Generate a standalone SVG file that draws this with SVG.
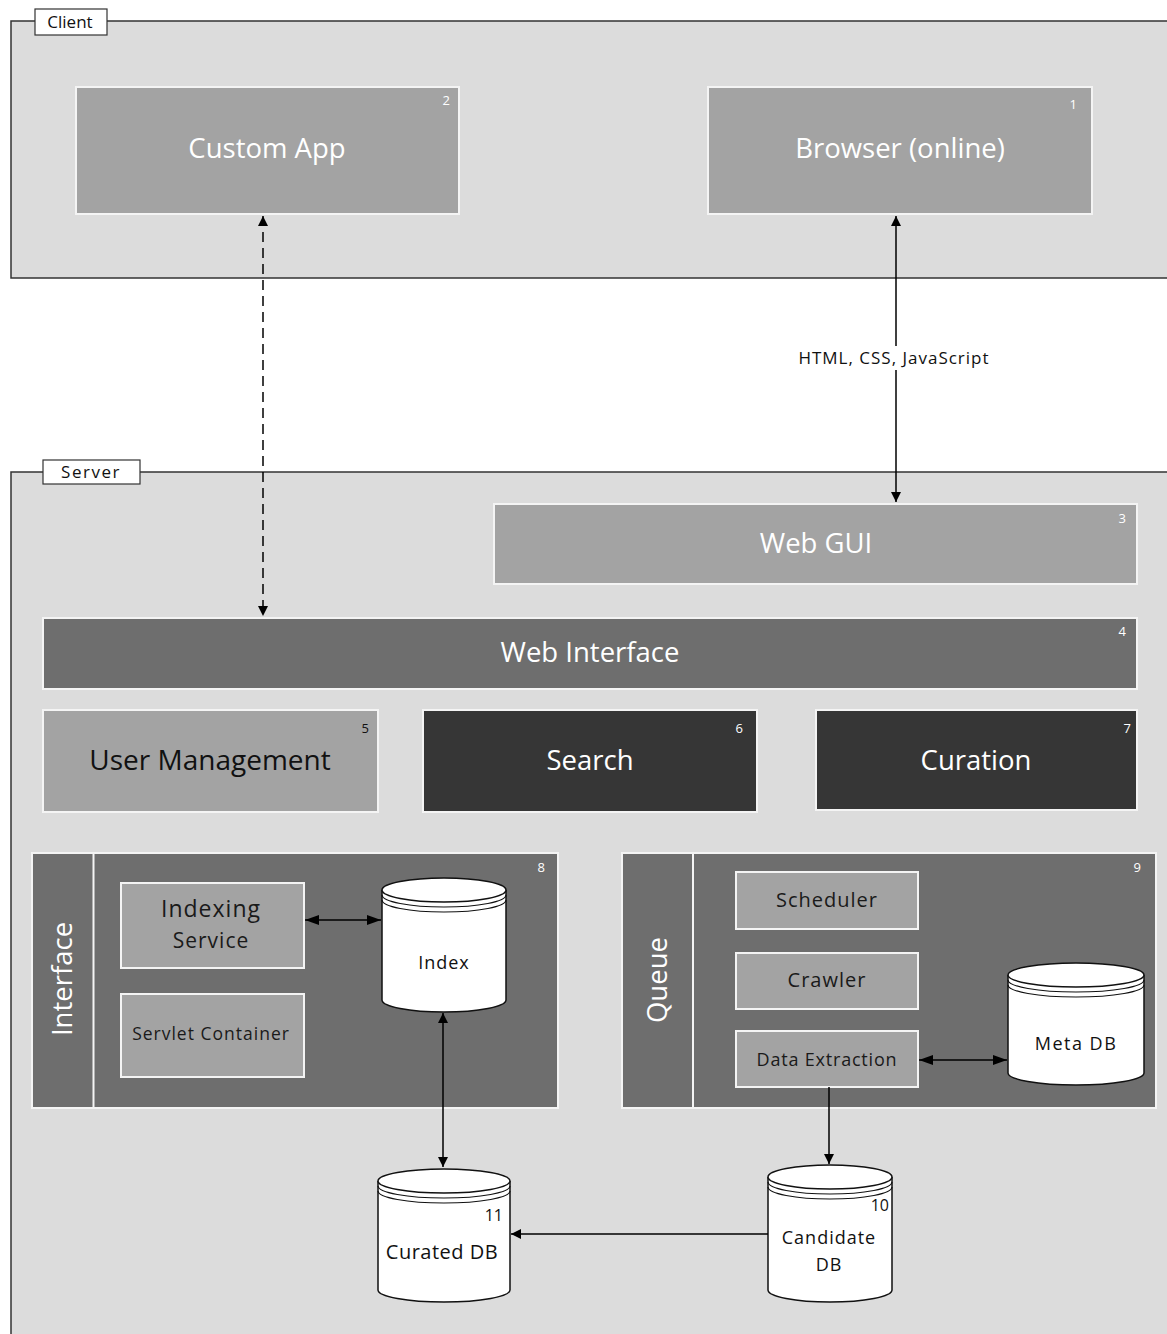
<svg xmlns="http://www.w3.org/2000/svg" width="1167" height="1334" viewBox="0 0 1167 1334">
<style>
.frame{fill:#dcdcdc;stroke:#333;stroke-width:1.5}
.tag{fill:#fff;stroke:#333;stroke-width:1.2}
.tagt{font-family:"Open Sans","DejaVu Sans",sans-serif;font-size:17px;fill:#111;text-anchor:middle}
.box{stroke:#f4f4f4;stroke-width:2}
.light{fill:#a3a3a3}
.mid{fill:#6e6e6e}
.dark{fill:#363636}
.title{font-family:"Open Sans","Noto Sans",sans-serif;font-size:27.5px;fill:#fff;text-anchor:middle}
.num{font-family:"Open Sans","Noto Sans",sans-serif;font-size:13px;fill:#fff;text-anchor:end}
.sub{font-family:"Open Sans","Noto Sans",sans-serif;font-size:19px;fill:#1a1a1a;text-anchor:middle;letter-spacing:1px}
.cyl{fill:#fff;stroke:#111;stroke-width:1.5}
.cylt{font-family:"Open Sans","Noto Sans",sans-serif;font-size:18px;fill:#111;text-anchor:middle;letter-spacing:1px}
.cyln{font-family:"Open Sans","Noto Sans",sans-serif;font-size:16px;fill:#111;text-anchor:end}
.con{stroke:#000;stroke-width:1.5;fill:none}
</style>
<defs>
<marker id="ah" viewBox="0 0 10 10" refX="10" refY="5" markerWidth="10" markerHeight="10" markerUnits="userSpaceOnUse" orient="auto-start-reverse">
<path d="M0,0 L10,5 L0,10 Z" fill="#000"/>
</marker>
<marker id="ahw" viewBox="0 0 10 10" refX="10" refY="5" markerWidth="14" markerHeight="10" markerUnits="userSpaceOnUse" orient="auto-start-reverse" preserveAspectRatio="none">
<path d="M0,0 L10,5 L0,10 Z" fill="#000"/>
</marker>
</defs>

<g id="client">
<rect class="frame" x="11" y="21" width="1170" height="257"/>
<rect class="tag" x="35" y="9" width="72" height="26"/>
<text class="tagt" x="70" y="28">Client</text>
</g>

<g id="server">
<rect class="frame" x="11" y="472" width="1170" height="880"/>
<rect class="tag" x="43" y="460" width="97" height="24"/>
<text class="tagt" x="91" y="478" letter-spacing="1.5">Server</text>
</g>

<g id="custom-app">
<rect class="box light" x="76" y="87" width="383" height="127"/>
<text class="title" x="267" y="158">Custom App</text>
<text class="num" x="450" y="105">2</text>
</g>

<g id="browser">
<rect class="box light" x="708" y="87" width="384" height="127"/>
<text class="title" x="900" y="158">Browser (online)</text>
<text class="num" x="1077" y="109">1</text>
</g>

<g id="web-gui">
<rect class="box light" x="494" y="504" width="643" height="80"/>
<text class="title" x="816" y="553">Web GUI</text>
<text class="num" x="1126" y="523">3</text>
</g>

<g id="web-interface">
<rect class="box mid" x="43" y="618" width="1094" height="71"/>
<text class="title" x="590" y="662">Web Interface</text>
<text class="num" x="1126" y="636">4</text>
</g>

<g id="user-management">
<rect class="box light" x="43" y="710" width="335" height="102"/>
<text class="title" x="210" y="770" style="fill:#111;font-size:28px">User Management</text>
<text class="num" x="369" y="733" style="fill:#111">5</text>
</g>

<g id="search">
<rect class="box dark" x="423" y="710" width="334" height="102"/>
<text class="title" x="590" y="770">Search</text>
<text class="num" x="743" y="733">6</text>
</g>

<g id="curation">
<rect class="box dark" x="816" y="710" width="321" height="100"/>
<text class="title" x="976" y="770">Curation</text>
<text class="num" x="1131" y="733">7</text>
</g>

<g id="interface">
<rect class="box mid" x="32" y="853" width="526" height="255"/>
<line x1="93.5" y1="853" x2="93.5" y2="1108" stroke="#f4f4f4" stroke-width="2"/>
<text class="title" x="62" y="979" transform="rotate(-90 62 979)" dy="10">Interface</text>
<text class="num" x="545" y="872">8</text>
</g>

<g id="indexing-service">
<rect class="box light" x="121" y="883" width="183" height="85"/>
<text class="sub" x="211" y="917" style="font-size:23px">Indexing</text>
<text class="sub" x="211" y="948" style="font-size:21px">Service</text>
</g>

<g id="servlet-container">
<rect class="box light" x="121" y="994" width="183" height="83"/>
<text class="sub" x="211" y="1040" style="font-size:17.5px;letter-spacing:1px">Servlet Container</text>
</g>

<g id="index">
<path class="cyl" d="M382,890 A62,12 0 0 1 506,890 V1000 A62,12 0 0 1 382,1000 Z"/>
<path class="cyl" d="M382,890 A62,12 0 0 0 506,890"/>
<path fill="none" stroke="#111" stroke-width="1.2" d="M382,895 A62,12 0 0 0 506,895 M382,900 A62,12 0 0 0 506,900"/>
<text class="cylt" x="444" y="969">Index</text>
</g>

<g id="queue">
<rect class="box mid" x="622" y="853" width="534" height="255"/>
<line x1="693" y1="853" x2="693" y2="1108" stroke="#f4f4f4" stroke-width="2"/>
<text class="title" x="657" y="980" transform="rotate(-90 657 980)" dy="10">Queue</text>
<text class="num" x="1141" y="872">9</text>
</g>

<g id="scheduler">
<rect class="box light" x="736" y="872" width="182" height="57"/>
<text class="sub" x="827" y="907" style="font-size:20px">Scheduler</text>
</g>

<g id="crawler">
<rect class="box light" x="736" y="953" width="182" height="56"/>
<text class="sub" x="827" y="987" style="font-size:20px">Crawler</text>
</g>

<g id="data-extraction">
<rect class="box light" x="736" y="1031" width="182" height="56"/>
<text class="sub" x="827" y="1066" style="font-size:18px;letter-spacing:0.8px">Data Extraction</text>
</g>

<g id="meta-db">
<path class="cyl" d="M1008,975 A68,12 0 0 1 1144,975 V1073 A68,12 0 0 1 1008,1073 Z"/>
<path class="cyl" d="M1008,975 A68,12 0 0 0 1144,975"/>
<path fill="none" stroke="#111" stroke-width="1.2" d="M1008,980 A68,12 0 0 0 1144,980 M1008,985 A68,12 0 0 0 1144,985"/>
<text class="cylt" x="1076" y="1050" style="letter-spacing:1.5px">Meta DB</text>
</g>

<g id="curated-db">
<path class="cyl" d="M378,1181 A66,12 0 0 1 510,1181 V1290 A66,12 0 0 1 378,1290 Z"/>
<path class="cyl" d="M378,1181 A66,12 0 0 0 510,1181"/>
<path fill="none" stroke="#111" stroke-width="1.2" d="M378,1186 A66,12 0 0 0 510,1186 M378,1191 A66,12 0 0 0 510,1191"/>
<text class="cylt" x="442" y="1259" style="font-size:20px;letter-spacing:0.5px">Curated DB</text>
<text class="cyln" x="503" y="1221">11</text>
</g>

<g id="candidate-db">
<path class="cyl" d="M768,1177 A62,12 0 0 1 892,1177 V1290 A62,12 0 0 1 768,1290 Z"/>
<path class="cyl" d="M768,1177 A62,12 0 0 0 892,1177"/>
<path fill="none" stroke="#111" stroke-width="1.2" d="M768,1182 A62,12 0 0 0 892,1182 M768,1187 A62,12 0 0 0 892,1187"/>
<text class="cylt" x="829" y="1244">Candidate</text>
<text class="cylt" x="829" y="1271">DB</text>
<text class="cyln" x="889" y="1211">10</text>
</g>

<g id="connectors">
<line class="con" x1="263" y1="216" x2="263" y2="616" stroke-dasharray="10,6" marker-start="url(#ah)" marker-end="url(#ah)"/>
<line class="con" x1="896" y1="216" x2="896" y2="502" marker-start="url(#ah)" marker-end="url(#ah)"/>
<rect x="790" y="346" width="208" height="24" fill="#fff"/>
<text x="894" y="364" font-family="'Open Sans','Noto Sans',sans-serif" font-size="17" letter-spacing="1" fill="#111" text-anchor="middle">HTML, CSS, JavaScript</text>
<line class="con" x1="305" y1="920" x2="381" y2="920" marker-start="url(#ahw)" marker-end="url(#ahw)"/>
<line class="con" x1="443" y1="1013" x2="443" y2="1167" marker-start="url(#ah)" marker-end="url(#ah)"/>
<line class="con" x1="829" y1="1087" x2="829" y2="1164" marker-end="url(#ah)"/>
<line class="con" x1="768" y1="1234" x2="511" y2="1234" marker-end="url(#ah)"/>
<line class="con" x1="919" y1="1060" x2="1007" y2="1060" marker-start="url(#ahw)" marker-end="url(#ahw)"/>
</g>
</svg>
